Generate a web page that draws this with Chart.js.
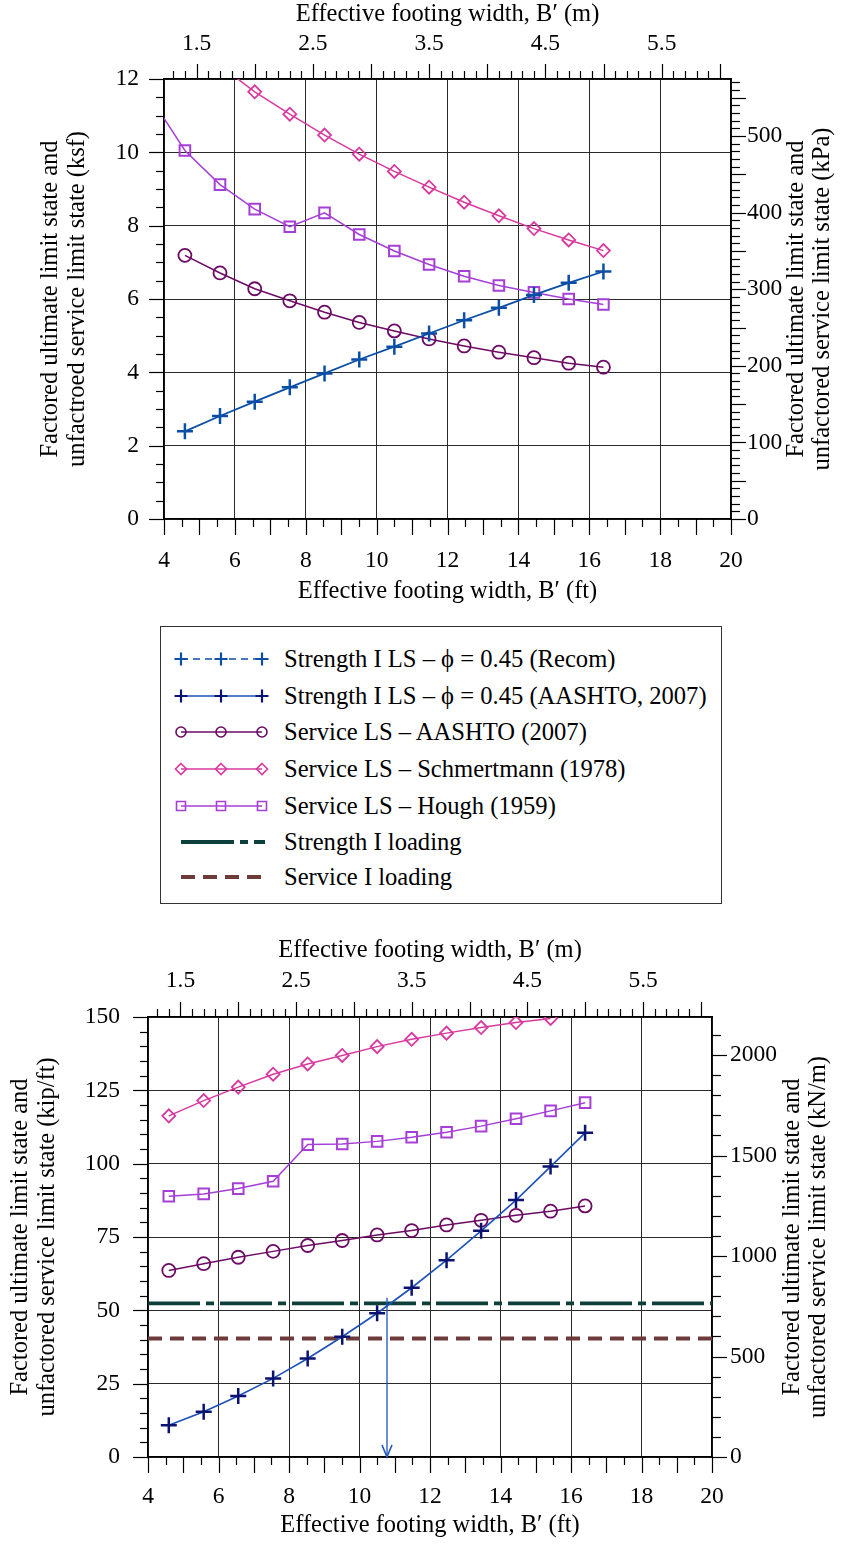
<!DOCTYPE html>
<html>
<head>
<meta charset="utf-8">
<title>Effective footing width</title>
<script src="https://cdn.jsdelivr.net/npm/chart.js@4.4.1/dist/chart.umd.min.js"></script>
<style>
  body { margin: 0; background: #fff; }
  #page { position: relative; width: 860px; height: 1544px; overflow: hidden; font-family: "Liberation Serif", "Times New Roman", serif; }
  #topChart { position: absolute; left: 0; top: 0; }
  #bottomChart { position: absolute; left: 0; top: 925px; }
  #legend { position: absolute; left: 160px; top: 626px; width: 562px; height: 278px; border: 1.5px solid #333; box-sizing: border-box; }
  .row { position: absolute; left: 0; width: 100%; height: 30px; }
  .row canvas { position: absolute; left: 0; top: 0; }
  .row span { position: absolute; left: 123px; top: 0; line-height: 30px; font-size: 24.6px; white-space: nowrap; color: #000; }
</style>
</head>
<body>
<div id="page">
  <canvas id="topChart" width="860" height="610"></canvas>
  <div id="legend"></div>
  <canvas id="bottomChart" width="860" height="619"></canvas>
</div>
<script>
const FT_PER_M = 3.2808;
const KPA_PER_KSF = 47.88;
const KNM_PER_KIPFT = 14.594;

// footing widths 1.4 m ... 5.0 m, expressed in ft
const widthFt = [4.59, 5.58, 6.56, 7.55, 8.53, 9.51, 10.50, 11.48, 12.47, 13.45, 14.44, 15.42, 16.40];
// Hough curve on the top chart starts one step further left (clipped by the axis)
const houghTopFt = [3.61, 4.59, 5.58, 6.56, 7.55, 8.53, 9.51, 10.50, 11.48, 12.47, 13.45, 14.44, 15.42, 16.40];

// top chart, pressure (ksf)
const recomKsf = [2.39, 2.81, 3.20, 3.59, 3.97, 4.35, 4.70, 5.06, 5.42, 5.76, 6.11, 6.44, 6.75];
const serviceAashtoKsf = [7.19, 6.71, 6.28, 5.95, 5.64, 5.36, 5.13, 4.91, 4.72, 4.55, 4.40, 4.25, 4.14];
const schmertmannKsf = [13.15, 12.37, 11.65, 11.04, 10.47, 9.95, 9.48, 9.05, 8.64, 8.27, 7.92, 7.61, 7.32];
const houghKsf = [11.5, 10.05, 9.12, 8.45, 7.97, 8.35, 7.76, 7.31, 6.94, 6.62, 6.37, 6.18, 6.00, 5.85];

// bottom chart, line load (kip/ft)
const strengthAashtoKipFt = [10.8, 15.4, 20.8, 26.8, 33.6, 41.0, 49.0, 57.7, 67.1, 77.1, 87.6, 99.0, 110.5];
const serviceAashtoKipFt = [63.6, 65.9, 68.1, 70.1, 72.1, 73.8, 75.7, 77.2, 79.1, 80.7, 82.4, 83.8, 85.6];
const schmertmannKipFt = [116.3, 121.5, 126.1, 130.5, 134.0, 136.9, 139.9, 142.4, 144.5, 146.4, 148.1, 149.5, null];
const houghKipFt = [88.9, 89.7, 91.5, 94.0, 106.5, 106.7, 107.6, 109.0, 110.7, 112.8, 115.3, 118.0, 120.8];
const strengthLoadKipFt = 52.4;
const serviceLoadKipFt = 40.4;
const designWidthFt = 10.78;
const arrowTopKipFt = 54.3;

// tick labels
const ftTicks = [4, 6, 8, 10, 12, 14, 16, 18, 20];
const mTicks = [1.5, 2.5, 3.5, 4.5, 5.5];
const ksfTicks = [0, 2, 4, 6, 8, 10, 12];
const kpaTicks = [0, 100, 200, 300, 400, 500];
const kipTicks = [0, 25, 50, 75, 100, 125, 150];
const knmTicks = [0, 500, 1000, 1500, 2000];

const COL = {
  recom: '#0b4ea6',
  aashtoMark: '#0a1470',
  aashtoLine: '#1d50b8',
  service: '#6c0a64',
  schm: '#d8399e',
  hough: '#a63fd6',
  strengthLoad: '#0e403b',
  serviceLoad: '#6e3b3b',
  arrow: '#1f55c0'
};
const FONT = '"Liberation Serif", "Times New Roman", serif';
const TITLE_SIZE = 24.5;

Chart.defaults.font.family = FONT;
Chart.defaults.font.size = 23.5;
Chart.defaults.color = '#000';

const pts = (xs, ys) => xs.map((x, i) => ({ x: x, y: ys[i] }));
const setTicks = values => scale => { scale.ticks = values.map(v => ({ value: v })); };
const fixSize = (prop, size) => scale => { scale[prop] = size; };

// minor / major tick marks, drawn outwards on each axis
const tickMarks = {
  id: 'tickMarks',
  afterDraw(chart, args, opts) {
    const ctx = chart.ctx;
    ctx.save();
    ctx.strokeStyle = '#000';
    ctx.lineWidth = 1.2;
    opts.axes.forEach(a => {
      const sc = chart.scales[a.id];
      let i = Math.ceil(sc.min / a.minor - 1e-9);
      for (; i * a.minor <= sc.max + 1e-9; i++) {
        const v = i * a.minor;
        const r = v / a.major;
        const len = Math.abs(r - Math.round(r)) < 1e-6 ? a.long : a.short;
        const p = Math.round(sc.getPixelForValue(v)) + 0.5;
        ctx.beginPath();
        if (sc.position === 'bottom') { ctx.moveTo(p, sc.top); ctx.lineTo(p, sc.top + len); }
        else if (sc.position === 'top') { ctx.moveTo(p, sc.bottom); ctx.lineTo(p, sc.bottom - len); }
        else if (sc.position === 'left') { ctx.moveTo(sc.right, p); ctx.lineTo(sc.right - len, p); }
        else { ctx.moveTo(sc.left, p); ctx.lineTo(sc.left + len, p); }
        ctx.stroke();
      }
    });
    ctx.restore();
  }
};

// right hand axis title, reads bottom-to-top like the left one
const sideTitle = {
  id: 'sideTitle',
  afterDraw(chart, args, o) {
    if (!o.lines) return;
    const ctx = chart.ctx, area = chart.chartArea;
    ctx.save();
    ctx.font = TITLE_SIZE + 'px ' + FONT;
    ctx.fillStyle = '#000';
    ctx.textAlign = 'center';
    ctx.textBaseline = 'middle';
    ctx.translate(o.x, (area.top + area.bottom) / 2);
    ctx.rotate(-Math.PI / 2);
    o.lines.forEach((t, i) => ctx.fillText(t, 0, i * o.gap));
    ctx.restore();
  }
};

// arrow head at the last point of a dataset
const arrowHead = {
  id: 'arrowHead',
  afterDatasetsDraw(chart, args, o) {
    if (o.dataset === undefined) return;
    const meta = chart.getDatasetMeta(o.dataset);
    const tip = meta.data[meta.data.length - 1];
    const ctx = chart.ctx;
    ctx.save();
    ctx.strokeStyle = o.color;
    ctx.lineWidth = 1.6;
    ctx.beginPath();
    ctx.moveTo(tip.x - 5, tip.y - 12);
    ctx.lineTo(tip.x, tip.y);
    ctx.lineTo(tip.x + 5, tip.y - 12);
    ctx.stroke();
    ctx.restore();
  }
};

function series(data, color, style, radius, extra) {
  return Object.assign({
    data: data,
    borderColor: color,
    borderWidth: 1.5,
    pointStyle: style,
    pointRadius: radius,
    pointBorderColor: color,
    pointBackgroundColor: 'rgba(0,0,0,0)',
    pointBorderWidth: 1.8,
    tension: 0,
    fill: false
  }, extra || {});
}

function axisX(ticks, height, padding, title, titlePad, extra) {
  return Object.assign({
    type: 'linear',
    afterBuildTicks: setTicks(ticks),
    afterFit: fixSize('height', height),
    ticks: { padding: padding, maxRotation: 0, autoSkip: false, color: '#000', callback: v => String(v) },
    grid: { color: '#2a2a2a', lineWidth: 1, drawTicks: false },
    border: { color: '#000', width: 1.5 },
    title: { display: true, text: title, color: '#000', padding: titlePad, font: { size: TITLE_SIZE } }
  }, extra);
}

function axisY(ticks, width, padding, title, titlePad, extra) {
  return Object.assign({
    type: 'linear',
    afterBuildTicks: setTicks(ticks),
    afterFit: fixSize('width', width),
    ticks: { padding: padding, color: '#000', callback: v => String(v) },
    grid: { color: '#2a2a2a', lineWidth: 1, drawTicks: false },
    border: { color: '#000', width: 1.5 },
    title: { display: !!title, text: title, color: '#000', padding: titlePad, font: { size: TITLE_SIZE, lineHeight: 1.1 } }
  }, extra);
}

const noGrid = { drawOnChartArea: false, drawTicks: false };
const mTickLabels = { maxRotation: 0, autoSkip: false, color: '#000', callback: v => v.toFixed(1) };

// ---------- top chart ----------
new Chart(document.getElementById('topChart'), {
  type: 'line',
  data: {
    datasets: [
      series(pts(widthFt, recomKsf), COL.recom, 'cross', 8, { pointBorderWidth: 2.5, borderWidth: 1.8 }),
      series(pts(widthFt, serviceAashtoKsf), COL.service, 'circle', 6.5),
      series(pts(widthFt, schmertmannKsf), COL.schm, 'rectRot', 6.5),
      series(pts(houghTopFt, houghKsf), COL.hough, 'rect', 7.5, { pointBorderWidth: 2 })
    ]
  },
  options: {
    responsive: false,
    animation: false,
    devicePixelRatio: 1,
    layout: { padding: 0 },
    plugins: {
      legend: { display: false },
      tooltip: { enabled: false },
      tickMarks: { axes: [
        { id: 'x', minor: 0.5, major: 1, short: 8, long: 16 },
        { id: 'xm', minor: 0.1, major: 0.5, short: 8, long: 15 },
        { id: 'y', minor: 0.5, major: 2, short: 8, long: 15 },
        { id: 'yk', minor: 10, major: 50, short: 9, long: 15 }
      ] },
      sideTitle: { x: 797, gap: 26, lines: ['Factored ultimate limit state and', 'unfactored service limit state (kPa)'] }
    },
    scales: {
      x: axisX(ftTicks, 91, 28, 'Effective footing width, B\u2032 (ft)', { top: 0, bottom: 4 },
        { position: 'bottom', min: 4, max: 20 }),
      xm: axisX(mTicks, 79, 21, 'Effective footing width, B\u2032 (m)', { top: 0, bottom: 0 },
        { position: 'top', min: 4 / FT_PER_M, max: 20 / FT_PER_M, grid: noGrid,
          ticks: Object.assign({ padding: 21 }, mTickLabels) }),
      y: axisY(ksfTicks, 164, 25, ['Factored ultimate limit state and', 'unfactroed service limit state (ksf)'],
        { top: 37, bottom: 0 }, { position: 'left', min: 0, max: 12 }),
      yk: axisY(kpaTicks, 129, 16, null, 0,
        { position: 'right', min: 0, max: 12 * KPA_PER_KSF, grid: noGrid })
    }
  },
  plugins: [tickMarks, sideTitle]
});

// ---------- bottom chart ----------
const loadLine = (y, color, dash) => ({
  data: [{ x: ftTicks[0], y: y }, { x: ftTicks[ftTicks.length - 1], y: y }],
  borderColor: color,
  borderWidth: 3.8,
  borderDash: dash,
  pointRadius: 0,
  fill: false
});

new Chart(document.getElementById('bottomChart'), {
  type: 'line',
  data: {
    datasets: [
      series(pts(widthFt, strengthAashtoKipFt), COL.aashtoLine, 'cross', 8,
        { pointBorderColor: COL.aashtoMark, pointBorderWidth: 2.5, borderWidth: 1.6 }),
      {
        data: [{ x: designWidthFt, y: arrowTopKipFt }, { x: designWidthFt, y: 0 }],
        borderColor: COL.arrow, borderWidth: 1.3, pointRadius: 0, fill: false
      },
      series(pts(widthFt, serviceAashtoKipFt), COL.service, 'circle', 6.5),
      series(pts(widthFt, schmertmannKipFt), COL.schm, 'rectRot', 6.5),
      series(pts(widthFt, houghKipFt), COL.hough, 'rect', 7.5, { pointBorderWidth: 2 }),
      loadLine(strengthLoadKipFt, COL.strengthLoad, [52, 6, 8, 6]),
      loadLine(serviceLoadKipFt, COL.serviceLoad, [14, 8])
    ]
  },
  options: {
    responsive: false,
    animation: false,
    devicePixelRatio: 1,
    layout: { padding: 0 },
    plugins: {
      legend: { display: false },
      tooltip: { enabled: false },
      tickMarks: { axes: [
        { id: 'x', minor: 0.5, major: 1, short: 8, long: 16 },
        { id: 'xm', minor: 0.1, major: 0.5, short: 8, long: 15 },
        { id: 'y', minor: 5, major: 25, short: 8, long: 15 },
        { id: 'yn', minor: 100, major: 500, short: 9, long: 15 }
      ] },
      sideTitle: { x: 793, gap: 26, lines: ['Factored ultimate limit state and', 'unfactored service limit state (kN/m)'] },
      arrowHead: { dataset: 1, color: COL.arrow }
    },
    scales: {
      x: axisX(ftTicks, 87, 26, 'Effective footing width, B\u2032 (ft)', { top: 0, bottom: 4 },
        { position: 'bottom', min: 4, max: 20 }),
      xm: axisX(mTicks, 92, 22, 'Effective footing width, B\u2032 (m)', { top: 11, bottom: 0 },
        { position: 'top', min: 4 / FT_PER_M, max: 20 / FT_PER_M, grid: noGrid,
          ticks: Object.assign({ padding: 22 }, mTickLabels) }),
      y: axisY(kipTicks, 148, 28, ['Factored ultimate limit state and', 'unfactored service limit state (kip/ft)'],
        { top: 7, bottom: 0 }, { position: 'left', min: 0, max: 150 }),
      yn: axisY(knmTicks, 148, 18, null, 0,
        { position: 'right', min: 0, max: 150 * KNM_PER_KIPFT, grid: noGrid })
    }
  },
  plugins: [tickMarks, sideTitle, arrowHead]
});

// ---------- legend (shared) ----------
const legendItems = [
  { text: 'Strength I LS \u2013 \u03d5 = 0.45 (Recom)', line: COL.recom, mark: COL.recom, style: 'cross', dash: [7, 5], width: 1.5 },
  { text: 'Strength I LS \u2013 \u03d5 = 0.45 (AASHTO, 2007)', line: COL.aashtoLine, mark: COL.aashtoMark, style: 'cross', dash: [], width: 1.5 },
  { text: 'Service LS \u2013 AASHTO (2007)', line: COL.service, mark: COL.service, style: 'circle', dash: [], width: 1.5 },
  { text: 'Service LS \u2013 Schmertmann (1978)', line: COL.schm, mark: COL.schm, style: 'diamond', dash: [], width: 1.5 },
  { text: 'Service LS \u2013 Hough (1959)', line: COL.hough, mark: COL.hough, style: 'square', dash: [], width: 1.5 },
  { text: 'Strength I loading', line: COL.strengthLoad, mark: null, dash: [53, 6, 8, 6], width: 3.8 },
  { text: 'Service I loading', line: COL.serviceLoad, mark: null, dash: [14, 8], width: 3.8 }
];
const legendRowCenters = [32, 69, 105, 142, 179, 215, 250];
const legendMarkX = [20, 60, 101];

function drawMark(ctx, style, x, y, color) {
  ctx.strokeStyle = color;
  ctx.lineWidth = style === 'cross' ? 2.2 : 1.6;
  ctx.setLineDash([]);
  ctx.beginPath();
  if (style === 'cross') {
    ctx.moveTo(x - 6.5, y); ctx.lineTo(x + 6.5, y);
    ctx.moveTo(x, y - 6.5); ctx.lineTo(x, y + 6.5);
  } else if (style === 'circle') {
    ctx.arc(x, y, 5, 0, Math.PI * 2);
  } else if (style === 'diamond') {
    ctx.moveTo(x, y - 5.5); ctx.lineTo(x + 5.5, y); ctx.lineTo(x, y + 5.5); ctx.lineTo(x - 5.5, y); ctx.closePath();
  } else if (style === 'square') {
    ctx.rect(x - 4.5, y - 4.5, 9, 9);
  }
  ctx.stroke();
}

const legendBox = document.getElementById('legend');
legendItems.forEach((item, i) => {
  const row = document.createElement('div');
  row.className = 'row';
  row.style.top = (legendRowCenters[i] - 15) + 'px';
  const cv = document.createElement('canvas');
  cv.width = 120; cv.height = 30;
  const span = document.createElement('span');
  span.textContent = item.text;
  row.appendChild(cv);
  row.appendChild(span);
  legendBox.appendChild(row);

  const ctx = cv.getContext('2d');
  ctx.strokeStyle = item.line;
  ctx.lineWidth = item.width;
  ctx.setLineDash(item.dash);
  ctx.beginPath();
  ctx.moveTo(legendMarkX[0], 15);
  ctx.lineTo(legendMarkX[2] + (item.mark ? 0 : 3), 15);
  ctx.stroke();
  if (item.mark) legendMarkX.forEach(x => drawMark(ctx, item.style, x, 15, item.mark));
});
</script>
</body>
</html>
